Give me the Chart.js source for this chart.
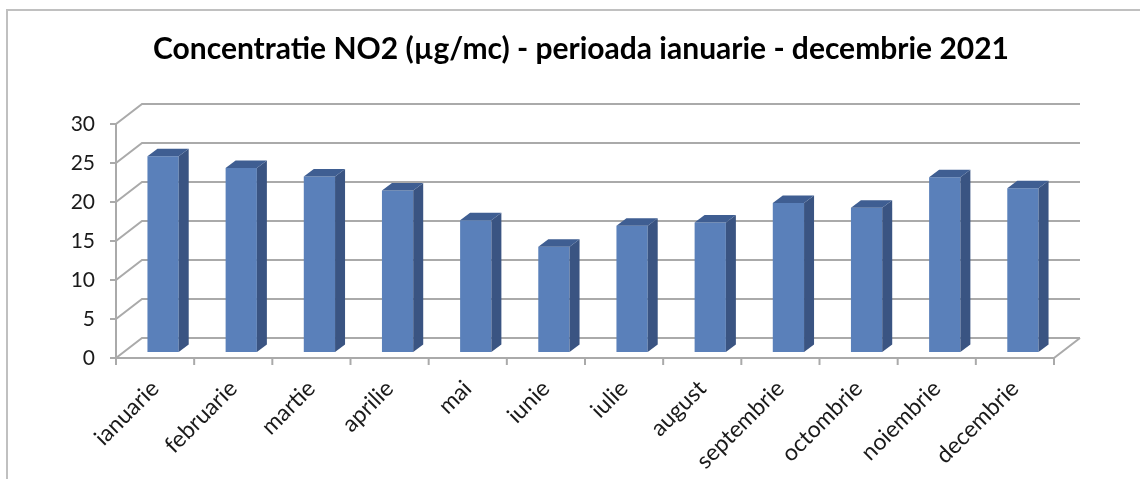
<!DOCTYPE html>
<html>
<head>
<meta charset="utf-8">
<script src="https://cdn.jsdelivr.net/npm/chart.js@4/dist/chart.umd.min.js"></script>
<style>
  html, body { margin: 0; padding: 0; background: #fff; }
  #wrap { width: 1140px; height: 479px; position: relative; }
</style>
</head>
<body>
<div id="wrap"><canvas id="graficNO2"></canvas></div>
<script>
// Date
const luni = ["ianuarie", "februarie", "martie", "aprilie", "mai", "iunie",
  "iulie", "august", "septembrie", "octombrie", "noiembrie", "decembrie"];
const valoriNO2 = [25.1, 23.6, 22.5, 20.7, 16.9, 13.5, 16.2, 16.6, 19.1, 18.5, 22.4, 21.0];
const valoriAxaY = [0, 5, 10, 15, 20, 25, 30];
const titlu = "Concentratie NO2 (µg/mc) - perioada ianuarie - decembrie 2021";

// adancimea "3D" (perete spate) si a coloanelor
const DX = 26, DY = 20;      // perete spate
const BX = 8, BY = 6;        // decalaj coloane in adancime
const SX = 10, SY = 7.5;     // grosimea coloanei
const culoareGrila = "#aaaaaa";

const efect3D = {
  id: "efect3D",
  beforeDraw(chart) {
    const c = chart.ctx;
    c.save();
    c.strokeStyle = "#c0c0c0";
    c.lineWidth = 2;
    c.beginPath();
    c.moveTo(7, 479); c.lineTo(7, 10); c.lineTo(1140, 10);
    c.stroke();
    c.restore();
  },
  beforeDatasetsDraw(chart) {
    const c = chart.ctx;
    const a = chart.chartArea;
    const ys = chart.scales.y;
    const y0 = ys.getPixelForValue(0);
    c.save();
    c.strokeStyle = culoareGrila;
    c.lineWidth = 2;
    // linii de grila pe peretele lateral si pe cel din spate
    valoriAxaY.forEach(v => {
      const y = ys.getPixelForValue(v);
      c.beginPath();
      c.moveTo(a.left, y);
      c.lineTo(a.left + DX, y - DY);
      c.lineTo(a.right + DX, y - DY);
      c.stroke();
      // liniute axa Y
      c.beginPath();
      c.moveTo(a.left - 6, y);
      c.lineTo(a.left, y);
      c.stroke();
    });
    // axa Y
    c.beginPath();
    c.moveTo(a.left, ys.getPixelForValue(30));
    c.lineTo(a.left, y0);
    c.stroke();
    // podea: linia din fata + muchia dreapta
    c.beginPath();
    c.moveTo(a.left, y0);
    c.lineTo(a.right, y0);
    c.lineTo(a.right + DX, y0 - DY);
    c.stroke();
    // liniute axa X (intre categorii)
    const pas = (a.right - a.left) / luni.length;
    for (let i = 0; i <= luni.length; i++) {
      const x = a.left + i * pas;
      c.beginPath();
      c.moveTo(x, y0);
      c.lineTo(x, y0 + 7);
      c.stroke();
    }
    c.restore();
    // coloanele se deseneaza decalate in adancime
    c.save();
    c.translate(BX, -BY);
  },
  afterDatasetsDraw(chart) {
    const c = chart.ctx;
    const meta = chart.getDatasetMeta(0);
    meta.data.forEach(bar => {
      const p = bar.getProps(["x", "y", "base", "width"], true);
      const l = p.x - p.width / 2, r = p.x + p.width / 2;
      // fata laterala
      c.fillStyle = "#3a5482";
      c.beginPath();
      c.moveTo(r, p.base);
      c.lineTo(r, p.y);
      c.lineTo(r + SX, p.y - SY);
      c.lineTo(r + SX, p.base - SY);
      c.closePath();
      c.fill();
      // fata de sus
      c.fillStyle = "#3f5e92";
      c.beginPath();
      c.moveTo(l, p.y);
      c.lineTo(r, p.y);
      c.lineTo(r + SX, p.y - SY);
      c.lineTo(l + SX, p.y - SY);
      c.closePath();
      c.fill();
    });
    c.restore();
  }
};

new Chart(document.getElementById("graficNO2"), {
  type: "bar",
  data: {
    labels: luni,
    datasets: [{
      label: "NO2",
      data: valoriNO2,
      backgroundColor: "#5a80ba",
      borderWidth: 0,
      categoryPercentage: 1.0,
      barPercentage: 0.4,
      clip: false
    }]
  },
  options: {
    responsive: true,
    maintainAspectRatio: false,
    animation: false,
    layout: { padding: { left: 22, right: 0, top: 0, bottom: 0 } },
    scales: {
      y: {
        min: 0,
        max: 30,
        ticks: {
          stepSize: 5,
          padding: 21,
          color: "#1a1a1a",
          font: { family: "Lato", size: 21 }
        },
        grid: { display: false, drawTicks: false },
        border: { display: false },
        afterFit: s => { s.width = 94; }
      },
      // axa dreapta invizibila, doar pentru spatiu
      yDreapta: {
        position: "right",
        min: 0,
        max: 30,
        ticks: { display: false },
        grid: { display: false, drawTicks: false },
        border: { display: false },
        afterFit: s => { s.width = 86; }
      },
      x: {
        ticks: {
          minRotation: 45,
          maxRotation: 45,
          padding: 17,
          color: "#1a1a1a",
          font: { family: "Lato", size: 23 }
        },
        grid: { display: false, drawTicks: false },
        border: { display: false },
        afterFit: s => { s.height = 121; }
      }
    },
    plugins: {
      legend: { display: false },
      tooltip: { enabled: false },
      title: {
        display: true,
        text: titlu,
        color: "#000",
        font: { family: "Lato", size: 30, weight: "bold" },
        padding: { top: 31, bottom: 57 }
      }
    }
  },
  plugins: [efect3D]
});
</script>
</body>
</html>
